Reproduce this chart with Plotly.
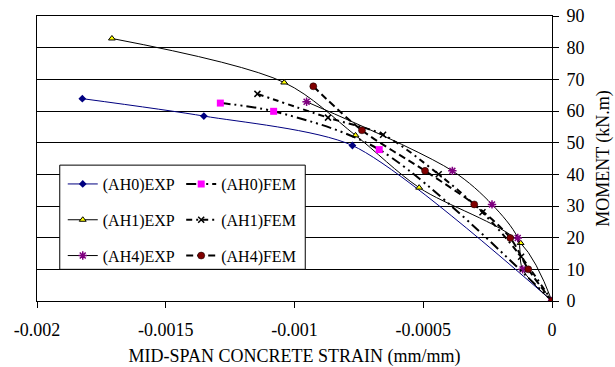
import plotly.graph_objects as go

# ---- data (strain mm/mm, moment kN.m) ----
ah0_exp_x = [-0.001824, -0.001352, -0.000775, 0.0]
ah0_exp_y = [63.9, 58.4, 49.1, 0.0]

ah1_exp_x = [-0.001709, -0.001040, -0.000763, -0.000516, -0.000122, 0.0]
ah1_exp_y = [82.9, 69.0, 52.3, 35.8, 18.3, 0.0]

ah4_exp_x = [-0.000953, -0.000387, -0.000233, -0.000133, -0.000114, 0.0]
ah4_exp_y = [62.9, 41.1, 30.5, 19.9, 10.0, 0.0]

ah0_fem_x = [-0.001288, -0.001081, -0.000671, 0.0]
ah0_fem_y = [62.5, 59.9, 47.8, 0.0]

ah1_fem_x = [-0.001144, -0.000870, -0.000656, -0.000440, -0.000270, -0.000120, 0.0]
ah1_fem_y = [65.4, 57.9, 52.5, 40.0, 28.0, 14.0, 0.0]

ah4_fem_x = [-0.000927, -0.000738, -0.000493, -0.000302, -0.000162, -0.000092, 0.0]
ah4_fem_y = [67.8, 53.9, 41.1, 30.5, 19.9, 10.0, 0.0]

x_tickvals = [-0.002, -0.0015, -0.001, -0.0005, 0]
x_ticktext = ["-0.002", "-0.0015", "-0.001", "-0.0005", "0"]
y_tickvals = [0, 10, 20, 30, 40, 50, 60, 70, 80, 90]

FONT = "Liberation Serif"

fig = go.Figure()

def add(name, xs, ys, line, marker, legend, group, smoothing=0.9):
    fig.add_trace(go.Scatter(
        x=xs, y=ys, name=name, mode="lines+markers",
        line=dict(shape="spline", smoothing=smoothing, **line),
        marker=marker, legend=legend, legendgroup=group))

add("(AH0)EXP", ah0_exp_x, ah0_exp_y, dict(color="#000080", width=1),
    dict(symbol="diamond", size=6, color="#000080"), "legend", "a", 0.7)
add("(AH1)EXP", ah1_exp_x, ah1_exp_y, dict(color="black", width=1),
    dict(symbol="triangle-up", size=6, color="#FFFF00", line=dict(color="black", width=1)), "legend", "b")
add("(AH4)EXP", ah4_exp_x, ah4_exp_y, dict(color="black", width=1),
    dict(symbol="asterisk-open", size=7, color="#800080", line=dict(color="#800080", width=1.5)), "legend", "c")
add("(AH0)FEM", ah0_fem_x, ah0_fem_y, dict(color="black", width=2, dash="10px,4px,2px,4px,2px,4px"),
    dict(symbol="square", size=7, color="#FF00FF"), "legend2", "d")
add("(AH1)FEM", ah1_fem_x, ah1_fem_y, dict(color="black", width=2, dash="6px,4px,2px,4px"),
    dict(symbol="x-thin-open", size=6, color="black", line=dict(color="black", width=1.5)), "legend2", "e")
add("(AH4)FEM", ah4_fem_x, ah4_fem_y, dict(color="black", width=2, dash="7px,4px"),
    dict(symbol="circle", size=7, color="#800000", line=dict(color="black", width=0.5)), "legend2", "f")

fig.update_layout(
    width=615, height=367,
    margin=dict(l=36.5, r=62.5, t=15.7, b=66, pad=0),
    paper_bgcolor="white", plot_bgcolor="white",
    font=dict(family=FONT, size=16, color="black"),
    showlegend=True,
    legend=dict(x=0.05, y=0.47, xanchor="left", yanchor="top",
                bgcolor="rgba(0,0,0,0)", borderwidth=0, tracegroupgap=12,
                traceorder="grouped", font=dict(family=FONT, size=16, color="black")),
    legend2=dict(x=0.28, y=0.47, xanchor="left", yanchor="top",
                 bgcolor="rgba(0,0,0,0)", borderwidth=0, tracegroupgap=12,
                 traceorder="grouped", font=dict(family=FONT, size=16, color="black")),
    shapes=[dict(type="rect", xref="paper", yref="paper",
                 x0=0.0442, x1=0.5209, y0=0.1111, y1=0.4767,
                 fillcolor="white", line=dict(color="black", width=1), layer="above")],
)

fig.update_xaxes(
    range=[-0.002, 0], tickvals=x_tickvals, ticktext=x_ticktext, automargin=False,
    showgrid=False, zeroline=False, showline=True, linecolor="black", linewidth=1,
    mirror=True, ticks="outside", ticklen=6, tickcolor="black", ticklabelstandoff=6,
    title=dict(text="MID-SPAN CONCRETE STRAIN (mm/mm)", standoff=12,
               font=dict(family=FONT, size=18)),
    tickfont=dict(family=FONT, size=18),
)
fig.update_yaxes(
    range=[0, 90], tickvals=y_tickvals, side="right", automargin=False,
    showgrid=True, gridcolor="black", gridwidth=1, zeroline=False,
    showline=True, linecolor="black", linewidth=1, mirror=True,
    ticks="outside", ticklen=6, tickcolor="black", ticklabelstandoff=4,
    title=dict(text="MOMENT (kN.m)", standoff=12, font=dict(family=FONT, size=18)),
    tickfont=dict(family=FONT, size=18),
)

fig.write_html("out.html")
